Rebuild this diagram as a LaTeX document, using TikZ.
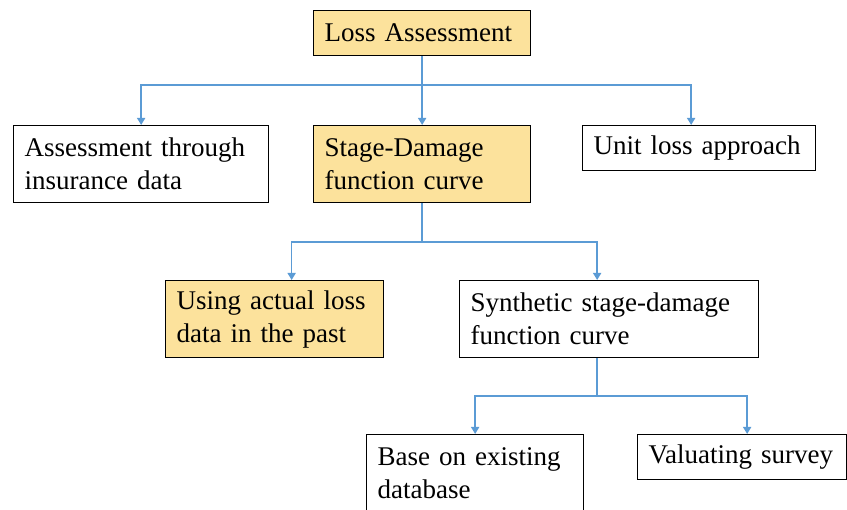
\documentclass[tikz,border=0pt]{standalone}
\usepackage{fontspec}
\setmainfont{Liberation Serif}
\usetikzlibrary{arrows.meta}

\definecolor{boxfill}{HTML}{FCE29C}
\definecolor{linkblue}{HTML}{5B9BD5}

\tikzset{box/.style={draw,line width=1.3pt,anchor=north west,align=left,inner xsep=11pt,inner ysep=0pt,font=\fontsize{27}{33}\selectfont},
yellow box/.style={box,fill=boxfill},
wire/.style={draw=linkblue,line width=1.6pt},
link/.style={wire,-{Triangle[width=8pt,length=7pt]}}}

\begin{document}
\begin{tikzpicture}[x=1pt,y=-1pt]
\useasboundingbox (0,0) rectangle (847,510);

%% boxes
\node [yellow box,text width=195pt,minimum height=45pt] (loss) at (313,10) {Loss Assessment};
\node [box,text width=233pt,minimum height=77pt] (ins) at (13,125) {Assessment through\\insurance data};
\node [yellow box,text width=195pt,minimum height=77pt] (sdf) at (313,125) {Stage-Damage\\function curve};
\node [box,text width=211pt,minimum height=45pt] (unit) at (582,125) {Unit loss approach};
\node [yellow box,text width=196pt,minimum height=77pt] (actual) at (165,280) {Using actual loss\\data in the past};
\node [box,text width=277pt,minimum height=77pt] (synth) at (459,280) {Synthetic stage-damage\\function curve};
\node [box,text width=195pt,minimum height=77pt] (base) at (366,434) {Base on existing\\database};
\node [box,text width=187pt,minimum height=45pt] (valu) at (637,434) {Valuating survey};

%% junction points
\coordinate (j1) at (loss.south |- 0,85);
\coordinate (j2) at (sdf.south |- 0,242);
\coordinate (s3) at ([xshift=-12pt]synth.south);
\coordinate (j3) at (s3 |- 0,396);

%% level 1
\draw [wire] (loss.south) -- (j1);
\draw [link] (j1) -| (ins.north);
\draw [link] (j1) -- (sdf.north);
\draw [link] (j1) -| ([xshift=-8pt]unit.north);

%% level 2
\draw [wire] (sdf.south) -- (j2);
\draw [link] (j2) -| ([xshift=17pt]actual.north);
\draw [link] (j2) -| ([xshift=-12pt]synth.north);

%% level 3
\draw [wire] (s3) -- (j3);
\draw [link] (j3) -| (base.north);
\draw [link] (j3) -| ([xshift=5pt]valu.north);

\end{tikzpicture}
\end{document}
